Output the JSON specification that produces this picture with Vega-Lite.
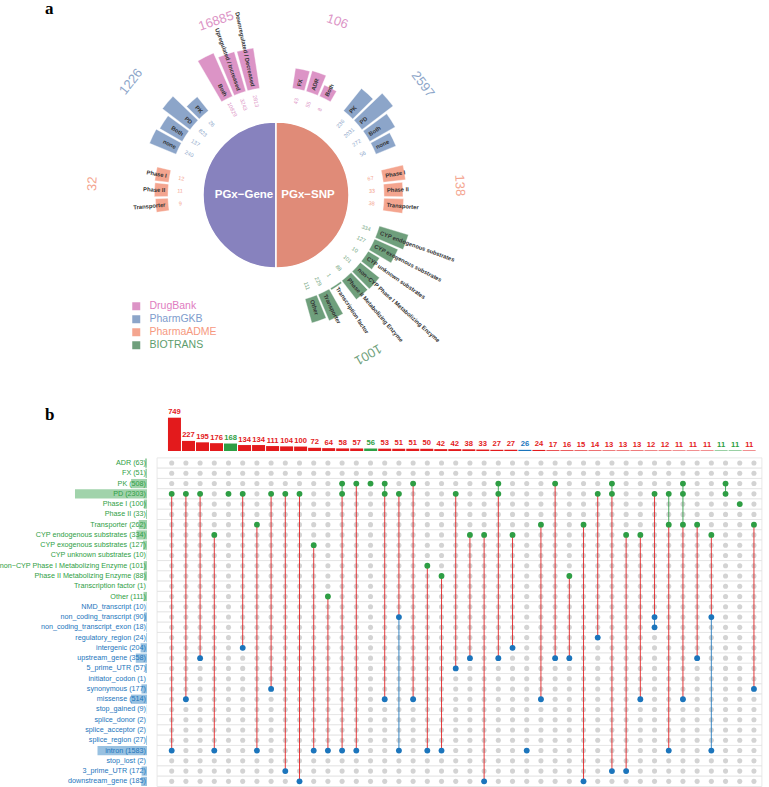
{
  "$schema": "https://vega.github.io/schema/vega-lite/v6.json",
  "padding": 0,
  "spacing": 7,
  "background": "white",
  "config": {"view": {"stroke": null}, "font": "Liberation Sans"},
  "resolve": {"scale": {"color": "independent", "fill": "independent", "x": "independent", "y": "independent"}},
  "datasets": {
    "pie": [
      {"h": "PGx−Gene", "a": 180, "b": 360, "m": 270},
      {"h": "PGx−SNP", "a": 0, "b": 180, "m": 90}
    ],
    "tb": [
      {"db": "DrugBank", "side": "L", "cat": "Both", "v": 10829, "m": 333},
      {"db": "DrugBank", "side": "L", "cat": "Upregulated / Increased", "v": 3243, "m": 340.5},
      {"db": "DrugBank", "side": "L", "cat": "Downregulated / Decreased", "v": 2813, "m": 348},
      {"db": "PharmGKB", "side": "L", "cat": "PK", "v": 26, "m": 318},
      {"db": "PharmGKB", "side": "L", "cat": "PD", "v": 823, "m": 310.5},
      {"db": "PharmGKB", "side": "L", "cat": "Both", "v": 137, "m": 303},
      {"db": "PharmGKB", "side": "L", "cat": "none", "v": 240, "m": 295.5},
      {"db": "PharmaADME", "side": "L", "cat": "Phase I", "v": 12, "m": 280},
      {"db": "PharmaADME", "side": "L", "cat": "Phase II", "v": 11, "m": 272.5},
      {"db": "PharmaADME", "side": "L", "cat": "Transporter", "v": 9, "m": 265},
      {"db": "DrugBank", "side": "R", "cat": "FX", "v": 43, "m": 12},
      {"db": "DrugBank", "side": "R", "cat": "ADR", "v": 55, "m": 19.5},
      {"db": "DrugBank", "side": "R", "cat": "Both", "v": 8, "m": 27},
      {"db": "PharmGKB", "side": "R", "cat": "PK", "v": 236, "m": 42},
      {"db": "PharmGKB", "side": "R", "cat": "PD", "v": 2031, "m": 49.5},
      {"db": "PharmGKB", "side": "R", "cat": "Both", "v": 272, "m": 57},
      {"db": "PharmGKB", "side": "R", "cat": "none", "v": 56, "m": 64.5},
      {"db": "PharmaADME", "side": "R", "cat": "Phase I", "v": 67, "m": 80},
      {"db": "PharmaADME", "side": "R", "cat": "Phase II", "v": 33, "m": 87.5},
      {"db": "PharmaADME", "side": "R", "cat": "Transporter", "v": 38, "m": 95},
      {"db": "BIOTRANS", "side": "R", "cat": "CYP endogenous substrates", "v": 334, "m": 110},
      {"db": "BIOTRANS", "side": "R", "cat": "CYP exogenous substrates", "v": 127, "m": 117.3},
      {"db": "BIOTRANS", "side": "R", "cat": "CYP unknown substrates", "v": 10, "m": 124.6},
      {"db": "BIOTRANS", "side": "R", "cat": "non−CYP Phase I Metabolizing Enzyme", "v": 101, "m": 131.9},
      {"db": "BIOTRANS", "side": "R", "cat": "Phase II Metabolizing Enzyme", "v": 88, "m": 139.2},
      {"db": "BIOTRANS", "side": "R", "cat": "Transcription factor", "v": 1, "m": 146.5},
      {"db": "BIOTRANS", "side": "R", "cat": "Transporter", "v": 229, "m": 153.8},
      {"db": "BIOTRANS", "side": "R", "cat": "Other", "v": 111, "m": 161.1}
    ],
    "tt": [
      {"db": "DrugBank", "t": 16885, "m": 341},
      {"db": "DrugBank", "t": 106, "m": 19.5},
      {"db": "PharmGKB", "t": 1226, "m": 308},
      {"db": "PharmGKB", "t": 2597, "m": 53},
      {"db": "PharmaADME", "t": 32, "m": 273.5},
      {"db": "PharmaADME", "t": 138, "m": 87},
      {"db": "BIOTRANS", "t": 1001, "m": 150}
    ],
    "sets": [
      {"set": "ADR", "n": 63, "grp": "gene", "label": "ADR (63)"},
      {"set": "FX", "n": 51, "grp": "gene", "label": "FX (51)"},
      {"set": "PK", "n": 508, "grp": "gene", "label": "PK (508)"},
      {"set": "PD", "n": 2303, "grp": "gene", "label": "PD (2303)"},
      {"set": "Phase I", "n": 100, "grp": "gene", "label": "Phase I (100)"},
      {"set": "Phase II", "n": 33, "grp": "gene", "label": "Phase II (33)"},
      {"set": "Transporter", "n": 262, "grp": "gene", "label": "Transporter (262)"},
      {"set": "CYP endogenous substrates", "n": 334, "grp": "gene", "label": "CYP endogenous substrates (334)"},
      {"set": "CYP exogenous substrates", "n": 127, "grp": "gene", "label": "CYP exogenous substrates (127)"},
      {"set": "CYP unknown substrates", "n": 10, "grp": "gene", "label": "CYP unknown substrates (10)"},
      {"set": "non−CYP Phase I Metabolizing Enzyme", "n": 101, "grp": "gene", "label": "non−CYP Phase I Metabolizing Enzyme (101)"},
      {"set": "Phase II Metabolizing Enzyme", "n": 88, "grp": "gene", "label": "Phase II Metabolizing Enzyme (88)"},
      {"set": "Transcription factor", "n": 1, "grp": "gene", "label": "Transcription factor (1)"},
      {"set": "Other", "n": 111, "grp": "gene", "label": "Other (111)"},
      {"set": "NMD_transcript", "n": 10, "grp": "snp", "label": "NMD_transcript (10)"},
      {"set": "non_coding_transcript", "n": 90, "grp": "snp", "label": "non_coding_transcript (90)"},
      {"set": "non_coding_transcript_exon", "n": 18, "grp": "snp", "label": "non_coding_transcript_exon (18)"},
      {"set": "regulatory_region", "n": 24, "grp": "snp", "label": "regulatory_region (24)"},
      {"set": "intergenic", "n": 204, "grp": "snp", "label": "intergenic (204)"},
      {"set": "upstream_gene", "n": 358, "grp": "snp", "label": "upstream_gene (358)"},
      {"set": "5_prime_UTR", "n": 57, "grp": "snp", "label": "5_prime_UTR (57)"},
      {"set": "initiator_codon", "n": 1, "grp": "snp", "label": "initiator_codon (1)"},
      {"set": "synonymous", "n": 177, "grp": "snp", "label": "synonymous (177)"},
      {"set": "missense", "n": 514, "grp": "snp", "label": "missense (514)"},
      {"set": "stop_gained", "n": 9, "grp": "snp", "label": "stop_gained (9)"},
      {"set": "splice_donor", "n": 2, "grp": "snp", "label": "splice_donor (2)"},
      {"set": "splice_acceptor", "n": 2, "grp": "snp", "label": "splice_acceptor (2)"},
      {"set": "splice_region", "n": 27, "grp": "snp", "label": "splice_region (27)"},
      {"set": "intron", "n": 1583, "grp": "snp", "label": "intron (1583)"},
      {"set": "stop_lost", "n": 2, "grp": "snp", "label": "stop_lost (2)"},
      {"set": "3_prime_UTR", "n": 172, "grp": "snp", "label": "3_prime_UTR (172)"},
      {"set": "downstream_gene", "n": 185, "grp": "snp", "label": "downstream_gene (185)"}
    ],
    "grid": [
      {"c": [0,1,2,3,4,5,6,7,8,9,10,11,12,13,14,15,16,17,18,19,20,21,22,23,24,25,26,27,28,29,30,31,32,33,34,35,36,37,38,39,40,41],
       "s": ["ADR","FX","PK","PD","Phase I","Phase II","Transporter","CYP endogenous substrates","CYP exogenous substrates","CYP unknown substrates","non−CYP Phase I Metabolizing Enzyme","Phase II Metabolizing Enzyme","Transcription factor","Other","NMD_transcript","non_coding_transcript","non_coding_transcript_exon","regulatory_region","intergenic","upstream_gene","5_prime_UTR","initiator_codon","synonymous","missense","stop_gained","splice_donor","splice_acceptor","splice_region","intron","stop_lost","3_prime_UTR","downstream_gene"]}
    ],
    "cols": [
      {"c": 0, "n": 749, "t": "both", "on": ["PD", "intron"]},
      {"c": 1, "n": 227, "t": "both", "on": ["PD", "missense"]},
      {"c": 2, "n": 195, "t": "both", "on": ["PD", "upstream_gene"]},
      {"c": 3, "n": 176, "t": "both", "on": ["CYP endogenous substrates", "intron"]},
      {"c": 4, "n": 168, "t": "gene", "on": ["PD"]},
      {"c": 5, "n": 134, "t": "both", "on": ["PD", "intergenic"]},
      {"c": 6, "n": 134, "t": "both", "on": ["Transporter", "intron"]},
      {"c": 7, "n": 111, "t": "both", "on": ["PD", "synonymous"]},
      {"c": 8, "n": 104, "t": "both", "on": ["PD", "3_prime_UTR"]},
      {"c": 9, "n": 100, "t": "both", "on": ["PD", "downstream_gene"]},
      {"c": 10, "n": 72, "t": "both", "on": ["CYP exogenous substrates", "intron"]},
      {"c": 11, "n": 64, "t": "both", "on": ["Other", "intron"]},
      {"c": 12, "n": 58, "t": "both", "on": ["PK", "PD", "intron"]},
      {"c": 13, "n": 57, "t": "both", "on": ["PK", "intron"]},
      {"c": 14, "n": 56, "t": "gene", "on": ["PK"]},
      {"c": 15, "n": 53, "t": "both", "on": ["PK", "PD", "missense"]},
      {"c": 16, "n": 51, "t": "both", "on": ["PD", "non_coding_transcript", "intron"]},
      {"c": 17, "n": 51, "t": "both", "on": ["PK", "missense"]},
      {"c": 18, "n": 50, "t": "both", "on": ["non−CYP Phase I Metabolizing Enzyme", "intron"]},
      {"c": 19, "n": 42, "t": "both", "on": ["Phase II Metabolizing Enzyme", "intron"]},
      {"c": 20, "n": 42, "t": "both", "on": ["PD", "5_prime_UTR"]},
      {"c": 21, "n": 38, "t": "both", "on": ["CYP endogenous substrates", "upstream_gene"]},
      {"c": 22, "n": 33, "t": "both", "on": ["CYP endogenous substrates", "downstream_gene"]},
      {"c": 23, "n": 27, "t": "both", "on": ["PK", "PD", "upstream_gene"]},
      {"c": 24, "n": 27, "t": "both", "on": ["CYP endogenous substrates", "intergenic"]},
      {"c": 25, "n": 26, "t": "snp", "on": ["intron"]},
      {"c": 26, "n": 24, "t": "both", "on": ["Transporter", "missense"]},
      {"c": 27, "n": 17, "t": "both", "on": ["PK", "upstream_gene"]},
      {"c": 28, "n": 16, "t": "both", "on": ["Phase II Metabolizing Enzyme", "upstream_gene"]},
      {"c": 29, "n": 15, "t": "both", "on": ["Transporter", "downstream_gene"]},
      {"c": 30, "n": 14, "t": "both", "on": ["PD", "regulatory_region"]},
      {"c": 31, "n": 13, "t": "both", "on": ["PK", "PD", "3_prime_UTR"]},
      {"c": 32, "n": 13, "t": "both", "on": ["CYP endogenous substrates", "3_prime_UTR"]},
      {"c": 33, "n": 13, "t": "both", "on": ["CYP endogenous substrates", "missense"]},
      {"c": 34, "n": 12, "t": "both", "on": ["PD", "non_coding_transcript", "non_coding_transcript_exon"]},
      {"c": 35, "n": 12, "t": "both", "on": ["PD", "Transporter", "intron"]},
      {"c": 36, "n": 11, "t": "both", "on": ["PK", "PD", "Transporter", "missense"]},
      {"c": 37, "n": 11, "t": "both", "on": ["Transporter", "upstream_gene"]},
      {"c": 38, "n": 11, "t": "both", "on": ["CYP endogenous substrates", "non_coding_transcript", "intron"]},
      {"c": 39, "n": 11, "t": "gene", "on": ["PK", "PD"]},
      {"c": 40, "n": 11, "t": "gene", "on": ["Phase I"]},
      {"c": 41, "n": 11, "t": "both", "on": ["Transporter", "synonymous"]}
    ],
    "segs": [
      {"c": 0, "a": "PD", "b": "intron", "k": "both"},
      {"c": 1, "a": "PD", "b": "missense", "k": "both"},
      {"c": 2, "a": "PD", "b": "upstream_gene", "k": "both"},
      {"c": 3, "a": "CYP endogenous substrates", "b": "intron", "k": "both"},
      {"c": 5, "a": "PD", "b": "intergenic", "k": "both"},
      {"c": 6, "a": "Transporter", "b": "intron", "k": "both"},
      {"c": 7, "a": "PD", "b": "synonymous", "k": "both"},
      {"c": 8, "a": "PD", "b": "3_prime_UTR", "k": "both"},
      {"c": 9, "a": "PD", "b": "downstream_gene", "k": "both"},
      {"c": 10, "a": "CYP exogenous substrates", "b": "intron", "k": "both"},
      {"c": 11, "a": "Other", "b": "intron", "k": "both"},
      {"c": 12, "a": "PK", "b": "PD", "k": "gene"},
      {"c": 12, "a": "PD", "b": "intron", "k": "both"},
      {"c": 13, "a": "PK", "b": "intron", "k": "both"},
      {"c": 15, "a": "PK", "b": "PD", "k": "gene"},
      {"c": 15, "a": "PD", "b": "missense", "k": "both"},
      {"c": 16, "a": "PD", "b": "non_coding_transcript", "k": "both"},
      {"c": 16, "a": "non_coding_transcript", "b": "intron", "k": "snp"},
      {"c": 17, "a": "PK", "b": "missense", "k": "both"},
      {"c": 18, "a": "non−CYP Phase I Metabolizing Enzyme", "b": "intron", "k": "both"},
      {"c": 19, "a": "Phase II Metabolizing Enzyme", "b": "intron", "k": "both"},
      {"c": 20, "a": "PD", "b": "5_prime_UTR", "k": "both"},
      {"c": 21, "a": "CYP endogenous substrates", "b": "upstream_gene", "k": "both"},
      {"c": 22, "a": "CYP endogenous substrates", "b": "downstream_gene", "k": "both"},
      {"c": 23, "a": "PK", "b": "PD", "k": "gene"},
      {"c": 23, "a": "PD", "b": "upstream_gene", "k": "both"},
      {"c": 24, "a": "CYP endogenous substrates", "b": "intergenic", "k": "both"},
      {"c": 26, "a": "Transporter", "b": "missense", "k": "both"},
      {"c": 27, "a": "PK", "b": "upstream_gene", "k": "both"},
      {"c": 28, "a": "Phase II Metabolizing Enzyme", "b": "upstream_gene", "k": "both"},
      {"c": 29, "a": "Transporter", "b": "downstream_gene", "k": "both"},
      {"c": 30, "a": "PD", "b": "regulatory_region", "k": "both"},
      {"c": 31, "a": "PK", "b": "PD", "k": "gene"},
      {"c": 31, "a": "PD", "b": "3_prime_UTR", "k": "both"},
      {"c": 32, "a": "CYP endogenous substrates", "b": "3_prime_UTR", "k": "both"},
      {"c": 33, "a": "CYP endogenous substrates", "b": "missense", "k": "both"},
      {"c": 34, "a": "PD", "b": "non_coding_transcript", "k": "both"},
      {"c": 34, "a": "non_coding_transcript", "b": "non_coding_transcript_exon", "k": "snp"},
      {"c": 35, "a": "PD", "b": "Transporter", "k": "gene"},
      {"c": 35, "a": "Transporter", "b": "intron", "k": "both"},
      {"c": 36, "a": "PK", "b": "Transporter", "k": "gene"},
      {"c": 36, "a": "Transporter", "b": "missense", "k": "both"},
      {"c": 37, "a": "Transporter", "b": "upstream_gene", "k": "both"},
      {"c": 38, "a": "CYP endogenous substrates", "b": "non_coding_transcript", "k": "both"},
      {"c": 38, "a": "non_coding_transcript", "b": "intron", "k": "snp"},
      {"c": 39, "a": "PK", "b": "PD", "k": "gene"},
      {"c": 41, "a": "Transporter", "b": "synonymous", "k": "both"}
    ]
  },
  "vconcat": [
    {
      "width": 552,
      "height": 388,
      "title": {"text": "a", "anchor": "start", "frame": "group", "font": "Liberation Serif", "fontSize": 17, "fontWeight": "bold", "color": "black", "baseline": "alphabetic", "dx": 45, "offset": -30},
      "resolve": {"scale": {"angle": "independent"}},
      "layer": [
        {
          "data": {"name": "pie"},
          "mark": {"type": "arc", "stroke": "white", "strokeWidth": 1.5},
          "encoding": {
            "theta": {"field": "a", "type": "quantitative", "stack": null, "scale": {"domain": [0, 360], "range": [0, 6.283185307179586]}},
            "theta2": {"field": "b"},
            "radius": {"value": 73},
            "fill": {"field": "h", "type": "nominal", "scale": {"domain": ["PGx−Gene", "PGx−SNP"], "range": ["#8782be", "#e08b78"]}, "legend": null}
          }
        },
        {
          "data": {"name": "pie"},
          "mark": {"type": "text", "fontSize": 11.5, "fontWeight": "bold", "fill": "white", "align": "center", "baseline": "middle"},
          "encoding": {
            "theta": {"field": "m", "type": "quantitative", "stack": null, "scale": {"domain": [0, 360], "range": [0, 6.283185307179586]}},
            "radius": {"value": 32},
            "text": {"field": "h"}
          }
        },
        {
          "data": {"name": "tb"},
          "mark": {"type": "arc", "thetaOffset": -0.057, "theta2Offset": 0.057, "stroke": "white", "strokeWidth": 0.4},
          "encoding": {
            "theta": {"field": "m", "type": "quantitative", "stack": null, "scale": {"domain": [0, 360], "range": [0, 6.283185307179586]}},
            "theta2": {"field": "m"},
            "radius": {"field": "v", "type": "quantitative", "scale": {"type": "log", "domain": [1, 100000], "range": [110, 166]}},
            "radius2": {"value": 108},
            "color": {"field": "db", "type": "nominal", "scale": {"domain": ["DrugBank", "PharmGKB", "PharmaADME", "BIOTRANS"], "range": ["#dc94c6", "#8ca5c9", "#f4a58f", "#6f9f7c"]},
              "legend": {"orient": "none", "legendX": 131, "legendY": 300, "title": null, "symbolType": "square", "symbolSize": 64, "symbolStrokeWidth": 0, "labelFontSize": 10.5, "labelOffset": 8, "rowPadding": 2, "padding": 0,
                "labelColor": {"expr": "datum.value === 'DrugBank' ? '#e07cc0' : datum.value === 'PharmGKB' ? '#7e9ccd' : datum.value === 'PharmaADME' ? '#f6997f' : '#5d9c6d'"},
                "encode": {"labels": {"update": {"fill": {"signal": "datum.value === 'DrugBank' ? '#e07cc0' : datum.value === 'PharmGKB' ? '#7e9ccd' : datum.value === 'PharmaADME' ? '#f6997f' : '#5d9c6d'"}}}}}}
          }
        },
        {
          "data": {"name": "tb"},
          "transform": [{"filter": "datum.side === 'L'"}],
          "mark": {"type": "text", "fontSize": 5.8, "fontWeight": "bold", "fill": "#333333", "align": "right", "baseline": "middle"},
          "encoding": {
            "theta": {"field": "m", "type": "quantitative", "stack": null, "scale": {"domain": [0, 360], "range": [0, 6.283185307179586]}},
            "radius": {"value": 111},
            "text": {"field": "cat"},
            "angle": {"field": "m", "type": "quantitative", "scale": {"domain": [0, 360], "range": [-270, 90]}}
          }
        },
        {
          "data": {"name": "tb"},
          "transform": [{"filter": "datum.side === 'R'"}],
          "mark": {"type": "text", "fontSize": 5.8, "fontWeight": "bold", "fill": "#333333", "align": "left", "baseline": "middle"},
          "encoding": {
            "theta": {"field": "m", "type": "quantitative", "stack": null, "scale": {"domain": [0, 360], "range": [0, 6.283185307179586]}},
            "radius": {"value": 111},
            "text": {"field": "cat"},
            "angle": {"field": "m", "type": "quantitative", "scale": {"domain": [0, 360], "range": [-90, 270]}}
          }
        },
        {
          "data": {"name": "tb"},
          "transform": [{"filter": "datum.side === 'L'"}],
          "mark": {"type": "text", "fontSize": 5.5, "align": "center", "baseline": "middle"},
          "encoding": {
            "theta": {"field": "m", "type": "quantitative", "stack": null, "scale": {"domain": [0, 360], "range": [0, 6.283185307179586]}},
            "radius": {"value": 96},
            "text": {"field": "v"},
            "color": {"field": "db", "type": "nominal"},
            "angle": {"field": "m", "type": "quantitative", "scale": {"domain": [0, 360], "range": [-270, 90]}}
          }
        },
        {
          "data": {"name": "tb"},
          "transform": [{"filter": "datum.side === 'R'"}],
          "mark": {"type": "text", "fontSize": 5.5, "align": "center", "baseline": "middle"},
          "encoding": {
            "theta": {"field": "m", "type": "quantitative", "stack": null, "scale": {"domain": [0, 360], "range": [0, 6.283185307179586]}},
            "radius": {"value": 96},
            "text": {"field": "v"},
            "color": {"field": "db", "type": "nominal"},
            "angle": {"field": "m", "type": "quantitative", "scale": {"domain": [0, 360], "range": [-90, 270]}}
          }
        },
        {
          "data": {"name": "tt"},
          "mark": {"type": "text", "fontSize": 13, "align": "center", "baseline": "middle"},
          "encoding": {
            "theta": {"field": "m", "type": "quantitative", "stack": null, "scale": {"domain": [0, 360], "range": [0, 6.283185307179586]}},
            "radius": {"value": 184},
            "text": {"field": "t"},
            "color": {"field": "db", "type": "nominal"},
            "angle": {"field": "m", "type": "quantitative", "scale": {"domain": [0, 360], "range": [0, 360]}}
          }
        }
      ]
    },
    {
      "width": 769,
      "height": 392,
      "title": {"text": "b", "anchor": "start", "frame": "group", "font": "Liberation Serif", "fontSize": 17, "fontWeight": "bold", "color": "black", "baseline": "alphabetic", "dx": 45, "offset": -40.5},
      "resolve": {"scale": {"x": "independent", "y": "independent", "color": "independent"}},
      "layer": [
        {
          "layer": [
            {
              "data": {"name": "sets"},
              "mark": {"type": "rect", "fill": "white", "stroke": "#e2e2e2", "strokeWidth": 0.8},
              "encoding": {
                "y": {"field": "set", "type": "nominal", "axis": null, "scale": {"domain": ["ADR","FX","PK","PD","Phase I","Phase II","Transporter","CYP endogenous substrates","CYP exogenous substrates","CYP unknown substrates","non−CYP Phase I Metabolizing Enzyme","Phase II Metabolizing Enzyme","Transcription factor","Other","NMD_transcript","non_coding_transcript","non_coding_transcript_exon","regulatory_region","intergenic","upstream_gene","5_prime_UTR","initiator_codon","synonymous","missense","stop_gained","splice_donor","splice_acceptor","splice_region","intron","stop_lost","3_prime_UTR","downstream_gene"], "range": [61.9, 390.5], "paddingInner": 0, "paddingOuter": 0}},
                "x": {"datum": -1.03, "type": "quantitative", "axis": null, "scale": {"domain": [-12.09, 42.06], "nice": false, "zero": false}},
                "x2": {"datum": 41.56}
              }
            },
            {
              "data": {"name": "grid"},
              "transform": [{"flatten": ["c"]}, {"flatten": ["s"]}],
              "mark": {"type": "circle", "size": 26, "color": "#d3d3d3", "opacity": 1},
              "encoding": {
                "x": {"field": "c", "type": "quantitative", "axis": null},
                "y": {"field": "s", "type": "nominal", "axis": null}
              }
            },
            {
              "data": {"name": "segs"},
              "mark": {"type": "rule", "strokeWidth": 1, "opacity": 0.85},
              "encoding": {
                "x": {"field": "c", "type": "quantitative", "axis": null},
                "y": {"field": "a", "type": "nominal", "axis": null},
                "y2": {"field": "b"},
                "color": {"field": "k", "type": "nominal", "legend": null, "scale": {"domain": ["both", "gene", "snp"], "range": ["#e31a1c", "#2e9e44", "#1b75bc"]}}
              }
            },
            {
              "data": {"name": "cols"},
              "transform": [{"flatten": ["on"]}, {"lookup": "on", "from": {"data": {"name": "sets"}, "key": "set", "fields": ["grp"]}}],
              "mark": {"type": "circle", "size": 34, "opacity": 1},
              "encoding": {
                "x": {"field": "c", "type": "quantitative", "axis": null},
                "y": {"field": "on", "type": "nominal", "axis": null},
                "color": {"field": "grp", "type": "nominal", "legend": null}
              }
            }
          ]
        },
        {
          "layer": [
            {
              "data": {"name": "sets"},
              "mark": {"type": "bar", "opacity": 0.45, "height": {"band": 0.9}},
              "encoding": {
                "y": {"field": "set", "type": "nominal", "axis": null, "scale": {"domain": ["ADR","FX","PK","PD","Phase I","Phase II","Transporter","CYP endogenous substrates","CYP exogenous substrates","CYP unknown substrates","non−CYP Phase I Metabolizing Enzyme","Phase II Metabolizing Enzyme","Transcription factor","Other","NMD_transcript","non_coding_transcript","non_coding_transcript_exon","regulatory_region","intergenic","upstream_gene","5_prime_UTR","initiator_codon","synonymous","missense","stop_gained","splice_donor","splice_acceptor","splice_region","intron","stop_lost","3_prime_UTR","downstream_gene"], "range": [61.9, 390.5], "paddingInner": 0, "paddingOuter": 0}},
                "x": {"field": "n", "type": "quantitative", "axis": null, "scale": {"domain": [-19898, 4702], "reverse": true, "nice": false, "zero": false}},
                "x2": {"datum": 0},
                "color": {"field": "grp", "type": "nominal", "legend": null, "scale": {"domain": ["both", "gene", "snp"], "range": ["#e31a1c", "#2e9e44", "#1b75bc"]}}
              }
            },
            {
              "data": {"name": "sets"},
              "mark": {"type": "text", "align": "right", "baseline": "middle", "dx": -1, "fontSize": 7.2, "clip": true},
              "encoding": {
                "y": {"field": "set", "type": "nominal", "axis": null},
                "x": {"datum": 0, "type": "quantitative", "axis": null},
                "text": {"field": "label"},
                "color": {"field": "grp", "type": "nominal", "legend": null}
              }
            }
          ]
        },
        {
          "layer": [
            {
              "data": {"name": "cols"},
              "mark": {"type": "bar", "width": 13, "orient": "vertical"},
              "encoding": {
                "x": {"field": "c", "type": "quantitative", "axis": null, "scale": {"domain": [-12.09, 42.06], "nice": false, "zero": false}},
                "y": {"field": "n", "type": "quantitative", "axis": null, "stack": null, "scale": {"domain": [0, 749], "range": [55, 21.7], "nice": false, "zero": true}},
                "y2": {"datum": 0},
                "color": {"field": "t", "type": "nominal", "legend": null, "scale": {"domain": ["both", "gene", "snp"], "range": ["#e31a1c", "#2e9e44", "#1b75bc"]}}
              }
            },
            {
              "data": {"name": "cols"},
              "mark": {"type": "text", "baseline": "alphabetic", "align": "center", "dy": -3.5, "fontSize": 7.6, "fontWeight": "bold"},
              "encoding": {
                "x": {"field": "c", "type": "quantitative", "axis": null},
                "y": {"field": "n", "type": "quantitative", "axis": null},
                "text": {"field": "n"},
                "color": {"field": "t", "type": "nominal", "legend": null}
              }
            }
          ]
        }
      ]
    }
  ]
}
